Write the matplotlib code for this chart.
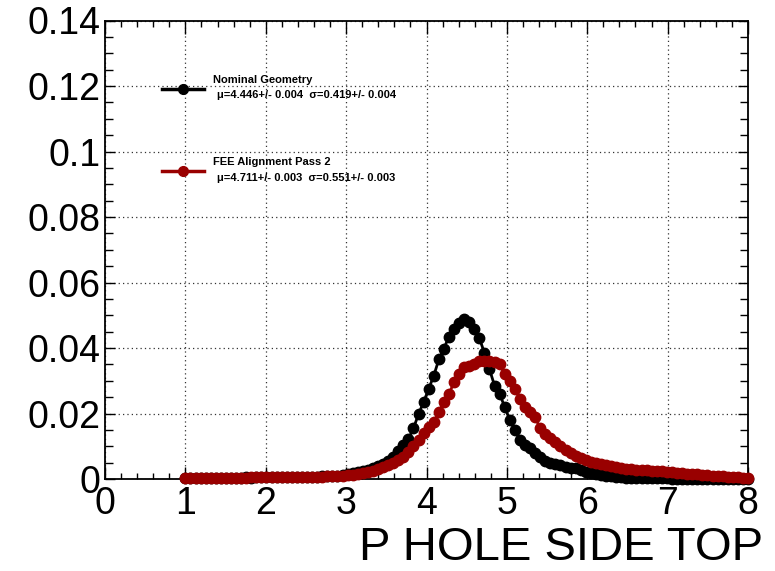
import numpy as np
import matplotlib
matplotlib.use("Agg")
import matplotlib.pyplot as plt
from matplotlib.ticker import MultipleLocator, FixedLocator

# ---- data (x 1..8, 112 bins) ----
x_lo, x_hi, n_bins = 1.0, 8.0, 112

nominal_e3 = [
    0.3, 0.3, 0.35, 0.3, 0.35, 0.4, 0.35, 0.4, 0.4, 0.45, 0.4, 0.45, 0.5, 0.45, 0.5, 0.5,
    0.5, 0.55, 0.5, 0.6, 0.55, 0.6, 0.65, 0.6, 0.7, 0.7, 0.75, 0.8, 0.85, 0.9, 1.0, 1.1,
    1.4, 1.7, 2.0, 2.4, 2.9, 3.3, 3.9, 4.6,
    5.6, 6.6, 8.6, 10.3, 12.2, 15.5, 19.8, 23.5,
    27.5, 31.5, 36.5, 39.8, 43.5, 45.8, 47.5, 49.0,
    47.8, 45.8, 43.0, 38.5, 33.5, 28.5, 26.0, 22.0,
    18.0, 15.0, 11.8, 10.5, 9.6, 8.0, 6.6, 5.6,
    5.0, 4.6, 4.2, 3.8, 3.5, 3.3, 2.9, 2.2,
    1.9, 1.6, 1.3, 1.0, 0.8, 0.6, 0.5, 0.4,
    0.35, 0.3, 0.3, 0.25, 0.25, 0.2, 0.2, 0.2, 0.15, 0.15, 0.15, 0.1,
    0.1, 0.1, 0.1, 0.1, 0.08, 0.08, 0.08, 0.05, 0.05, 0.05, 0.05, 0.05,
]

pass2_e3 = [
    0.3, 0.3, 0.3, 0.35, 0.35, 0.35, 0.4, 0.4, 0.4, 0.4, 0.45, 0.45, 0.45, 0.5, 0.5, 0.5,
    0.5, 0.5, 0.55, 0.55, 0.55, 0.6, 0.6, 0.65, 0.65, 0.7, 0.7, 0.75, 0.8, 0.85, 0.9, 0.95,
    1.1, 1.3, 1.5, 1.8, 2.1, 2.5, 3.0, 3.6,
    4.2, 4.8, 5.8, 6.8, 8.3, 10.0, 11.9, 14.0,
    16.0, 17.5, 20.5, 23.5, 26.0, 29.5, 32.0, 34.3,
    34.5, 35.0, 35.9, 36.0, 35.9, 35.8, 35.0, 32.0,
    29.8, 27.5, 24.5, 22.0, 20.5, 18.8, 15.5, 13.8,
    12.5, 11.2, 10.0, 8.8, 7.8, 7.0, 6.3, 5.8,
    5.3, 4.9, 4.6, 4.2, 3.9, 3.7, 3.5, 3.2,
    3.0, 2.9, 2.7, 2.6, 2.5, 2.4, 2.3, 2.2,
    2.1, 1.9, 1.8, 1.6, 1.5, 1.4, 1.2, 1.1,
    1.0, 0.9, 0.8, 0.7, 0.6, 0.5, 0.45, 0.4,
]

series_names = ["Nominal Geometry", "FEE Alignment Pass 2"]
series_stats = ["\u03bc=4.446+/- 0.004  \u03c3=0.419+/- 0.004",
                "\u03bc=4.711+/- 0.003  \u03c3=0.551+/- 0.003"]
series_colors = ["#000000", "#990000"]

x_ticks = [0, 1, 2, 3, 4, 5, 6, 7, 8]
x_tick_labels = ["0", "1", "2", "3", "4", "5", "6", "7", "8"]
y_ticks = [0, 0.02, 0.04, 0.06, 0.08, 0.10, 0.12, 0.14]
y_tick_labels = ["0", "0.02", "0.04", "0.06", "0.08", "0.1", "0.12", "0.14"]
x_title = "P HOLE SIDE TOP"

# ---- figure ----
plt.rcParams['font.family'] = ['Liberation Sans', 'DejaVu Sans']
W, H = 775, 571
fig = plt.figure(figsize=(W / 100, H / 100), dpi=100)
ax = fig.add_axes([105 / W, 1 - 479 / H, (748 - 105) / W, (479 - 20.5) / H])

xs = np.linspace(x_lo, x_hi, n_bins)
for vals, col in zip([nominal_e3, pass2_e3], series_colors):
    ys = np.array(vals) / 1000.0
    ax.plot(xs, ys, color=col, lw=2.0, marker='o', ms=7.5, mec=col, mfc=col,
            clip_on=False, zorder=3)

ax.set_xlim(0, 8)
ax.set_ylim(0, 0.14)
ax.xaxis.set_major_locator(FixedLocator(x_ticks))
ax.set_xticklabels(x_tick_labels)
ax.yaxis.set_major_locator(FixedLocator(y_ticks))
ax.set_yticklabels(y_tick_labels)
ax.xaxis.set_minor_locator(MultipleLocator(0.2))
ax.yaxis.set_minor_locator(MultipleLocator(0.005))

ax.tick_params(which='both', direction='in', top=True, right=True, width=1.0)
ax.tick_params(axis='x', which='major', length=9, pad=5, labelsize=27)
ax.tick_params(axis='x', which='minor', length=4.5)
ax.tick_params(axis='y', which='major', length=7, pad=3, labelsize=27)
ax.tick_params(axis='y', which='minor', length=6)

ax.grid(True, which='major', color='#333333', linestyle=(0, (1, 2.5)), lw=0.9)
ax.set_axisbelow(True)
for s in ax.spines.values():
    s.set_linewidth(1.3)

# x-axis title (right aligned, ROOT style)
fig.text(763 / W, 1 - 548 / H, x_title, ha='right', va='center', fontsize=34)

# legend (drawn manually in ROOT style)
leg_rows = [(89, 80, 95), (171, 162, 178)]
for (ly, ty1, ty2), name, stat, col in zip(leg_rows, series_names, series_stats, series_colors):
    yl = 1 - ly / H
    fig.add_artist(plt.Line2D([162 / W, 204 / W], [yl, yl], color=col, lw=2.5,
                              transform=fig.transFigure))
    fig.add_artist(plt.Line2D([183 / W], [yl], color=col, marker='o', ms=7,
                              transform=fig.transFigure))
    fig.text(213 / W, 1 - ty1 / H, name, ha='left', va='center', fontsize=8,
             fontweight='bold')
    fig.text(217 / W, 1 - ty2 / H, stat, ha='left', va='center', fontsize=8,
             fontweight='bold')

fig.savefig("out.png", dpi=100)
